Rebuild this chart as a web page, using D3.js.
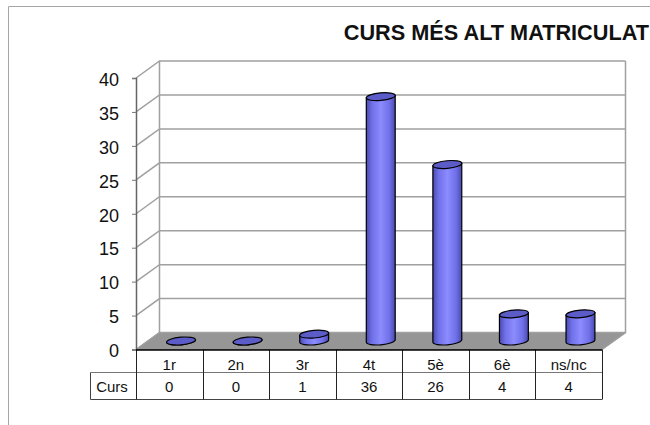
<!DOCTYPE html>
<html>
<head>
<meta charset="utf-8">
<script src="https://cdn.jsdelivr.net/npm/d3@7"></script>
<style>
  html, body { margin: 0; padding: 0; background: #fff; }
  svg { display: block; }
  text { font-family: "Liberation Sans", Arial, sans-serif; fill: #111; }
</style>
</head>
<body>
<div id="chart-area"></div>
<script>
var categories = ["1r", "2n", "3r", "4t", "5è", "6è", "ns/nc"];
var values = [0, 0, 1, 36, 26, 4, 4];
var yTicks = [0, 5, 10, 15, 20, 25, 30, 35, 40];
var seriesName = "Curs";
var titleText = "CURS MÉS ALT MATRICULAT";

var svg = d3.select("#chart-area").append("svg")
    .attr("width", 650)
    .attr("height", 425);

// Plot frame: front edge of the floor, plus the 3d offset to the back wall
var plotLeft = 136, plotRight = 602, plotBottom = 349.5, plotTop = 78;
var depthX = 23.5, depthY = -17;
var rx = 14.5, ry = 3.8, tilt = -5;

var x = d3.scaleBand().domain(categories).range([plotLeft, plotRight]);
var y = d3.scaleLinear().domain([0, 40]).range([plotBottom, plotTop]);

// Gradient for cylinder bodies
var grad = svg.append("defs").append("linearGradient")
    .attr("id", "cyl");
grad.append("stop").attr("offset", "0%").attr("stop-color", "#4a4ab0");
grad.append("stop").attr("offset", "20%").attr("stop-color", "#7070e8");
grad.append("stop").attr("offset", "50%").attr("stop-color", "#8c8cff");
grad.append("stop").attr("offset", "80%").attr("stop-color", "#7070e8");
grad.append("stop").attr("offset", "100%").attr("stop-color", "#4a4ab0");

// Outer border, open on the right and at the bottom
svg.append("path")
    .attr("d", "M650,6.5H8.5V425")
    .attr("fill", "none")
    .attr("stroke", "#a6a6a6");

// Title
svg.append("text")
    .attr("x", 649)
    .attr("y", 39.5)
    .attr("text-anchor", "end")
    .attr("font-size", "21.7px")
    .attr("font-weight", "bold")
    .text(titleText);

// Floor
svg.append("path")
    .attr("d", "M" + plotLeft + "," + plotBottom + "L" + (plotLeft + depthX) + "," + (plotBottom + depthY) +
        "H" + (plotRight + depthX) + "L" + plotRight + "," + plotBottom + "Z")
    .attr("fill", "#969696")
    .attr("stroke", "#7d7d7d");

// Gridlines: side wall and back wall
var wall = svg.append("g").attr("fill", "none").attr("stroke", "#a0a0a0").attr("stroke-width", 1.5);
wall.selectAll("path.grid").data(yTicks).enter().append("path")
    .attr("class", "grid")
    .attr("d", function(d) {
        return "M" + plotLeft + "," + y(d) + "L" + (plotLeft + depthX) + "," + (y(d) + depthY) +
            "H" + (plotRight + depthX);
    });
wall.append("path")
    .attr("d", "M" + (plotLeft + depthX) + "," + (plotTop + depthY) + "V" + (plotBottom + depthY));
wall.append("path")
    .attr("d", "M" + (plotRight + depthX) + "," + (plotTop + depthY) + "V" + (plotBottom + depthY) +
        "L" + plotRight + "," + plotBottom);

// Y axis
var yAxis = d3.axisLeft(y).tickValues(yTicks).tickSize(4).tickPadding(13);
var yG = svg.append("g")
    .attr("transform", "translate(" + plotLeft + ",0)")
    .call(yAxis);
yG.select(".domain").attr("stroke", "#666").attr("stroke-width", 1.5);
yG.selectAll(".tick line").attr("stroke", "#777");
yG.selectAll("text")
    .attr("font-family", "Liberation Sans, Arial, sans-serif")
    .attr("font-size", "18px")
    .attr("fill", "#111")
    .attr("y", 1.5);

// Cylinders
function cx(d) { return x(d) + x.bandwidth() / 2 + depthX / 2; }
var floorY = plotBottom + depthY / 2;
var a = tilt * Math.PI / 180;
var ex = rx * Math.cos(a), ey = rx * Math.sin(a);

var bars = svg.append("g").selectAll("g").data(categories).enter().append("g")
    .attr("stroke", "#000")
    .attr("stroke-width", 1.2);
bars.append("path")
    .attr("fill", "url(#cyl)")
    .attr("d", function(d, i) {
        var c = cx(d), h = y(values[i]) - plotBottom;
        var yb = floorY, yt = floorY + h;
        return "M" + (c - ex) + "," + (yt - ey) +
            "L" + (c - ex) + "," + (yb - ey) +
            "A" + rx + "," + ry + " " + tilt + " 0 0 " + (c + ex) + "," + (yb + ey) +
            "L" + (c + ex) + "," + (yt + ey) + "Z";
    });
bars.append("ellipse")
    .attr("fill", "#5c5cc8")
    .attr("rx", rx)
    .attr("ry", ry)
    .attr("transform", function(d, i) {
        return "translate(" + cx(d) + "," + (floorY + y(values[i]) - plotBottom) + ") rotate(" + tilt + ")";
    });

// Data table under the plot
var rowCat = 372.5, rowVal = 399.5, labelLeft = 90.5;
var table = svg.append("g").attr("fill", "none").attr("stroke", "#555");
table.append("path").attr("d", "M" + labelLeft + "," + rowCat + "H" + plotRight).attr("stroke", "#777").attr("stroke-width", 1);
table.append("path").attr("d", "M" + labelLeft + "," + rowVal + "H" + plotRight).attr("stroke", "#444").attr("stroke-width", 1);
table.append("path").attr("d", "M" + labelLeft + "," + rowCat + "V" + rowVal).attr("stroke", "#444");
table.selectAll("path.col").data(categories.concat("end")).enter().append("path")
    .attr("class", "col")
    .attr("stroke", "#222")
    .attr("d", function(d, i) {
        var px = Math.round(plotLeft + i * x.bandwidth()) + 0.5;
        return "M" + px + "," + plotBottom + "V" + rowVal;
    });
svg.append("path")
    .attr("d", "M" + plotLeft + "," + (plotBottom + 0.5) + "H" + plotRight)
    .attr("stroke", "#000")
    .attr("stroke-width", 1.6);

svg.append("g").selectAll("text").data(categories).enter().append("text")
    .attr("x", function(d) { return x(d) + x.bandwidth() / 2; })
    .attr("y", 370)
    .attr("text-anchor", "middle")
    .attr("font-size", "15px")
    .text(function(d) { return d; });
svg.append("g").selectAll("text").data(values).enter().append("text")
    .attr("x", function(d, i) { return x(categories[i]) + x.bandwidth() / 2; })
    .attr("y", 392)
    .attr("text-anchor", "middle")
    .attr("font-size", "15px")
    .text(function(d) { return d; });
svg.append("text")
    .attr("x", 112)
    .attr("y", 391.5)
    .attr("text-anchor", "middle")
    .attr("font-size", "15px")
    .text(seriesName);
</script>
</body>
</html>
